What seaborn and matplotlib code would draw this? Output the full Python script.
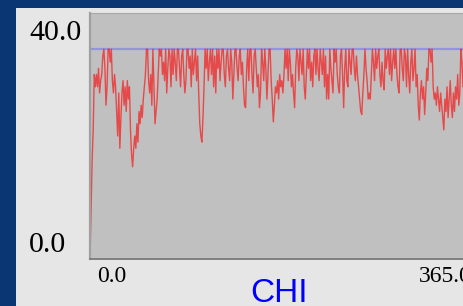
import numpy as np
import pandas as pd
import matplotlib
matplotlib.use('Agg')
import matplotlib.pyplot as plt
import seaborn as sns
from matplotlib.patches import Rectangle
from matplotlib.transforms import ScaledTranslation

# 每日 CHI 值（0 - 365 天），读图估计
CHI_VALUES = [
    0, 8, 16, 21, 30, 28, 30, 28, 31, 27, 29, 30, 33, 34.1, 31, 25, 28, 34.1, 34.1, 32,
    34.1, 29, 27, 30, 28, 24, 20, 27, 18, 23, 27, 29, 25, 28, 24, 29, 26, 28, 21, 17,
    15, 18, 20, 18, 22, 19, 24, 22, 25, 23, 26, 28, 30, 34.1, 34.1, 29, 27, 30, 25, 34.1,
    28, 22, 24, 26, 30, 34.1, 33, 34.1, 30, 32, 29, 34.1, 27, 31, 34.1, 33, 28, 34.1, 30, 34.1,
    32, 29, 34.1, 34.1, 31, 28, 33, 34.1, 30, 27, 29, 34.1, 34.1, 31, 33, 28, 34.1, 30, 32, 34.1,
    29, 33, 27, 22, 20, 19, 23, 28, 34.1, 31, 34.1, 29, 32, 34.1, 30, 34.1, 28, 33, 27, 34.1,
    31, 34.1, 29, 32, 34.1, 34.1, 30, 28, 33, 34.1, 31, 29, 34.1, 32, 26, 30, 34.1, 34.1, 31, 29,
    33, 34.1, 30, 32, 28, 25, 24.6, 31, 34.1, 29, 34.1, 34.1, 30, 27, 33, 34.1, 31, 28, 30, 24.6,
    27, 34.1, 32, 29, 34.1, 31, 26, 30, 34.1, 34.1, 29, 26, 22.3, 25, 28, 27, 29, 26, 30, 28,
    29, 27, 30, 34.1, 31, 34.1, 29, 34.1, 32, 28, 30, 27, 24.6, 31, 34.1, 33, 29, 34.1, 32, 30,
    34.1, 28, 26, 30, 34.1, 31, 34.1, 29, 32, 28, 33, 34.1, 30, 34.1, 31, 29, 34.1, 32, 30, 34.1,
    28, 33, 26, 30, 26, 34.1, 31, 29, 27, 34.1, 32, 34.1, 30, 28, 27, 33, 34.1, 30, 24.6, 31,
    34.1, 29, 28, 34.1, 32, 30, 34.1, 34.1, 31, 29, 33, 30, 28, 26, 24, 23.5, 27, 30, 34.1, 31,
    29, 26, 27, 26, 30, 34.1, 32, 29, 34.1, 31, 33, 34.1, 30, 28, 32, 29, 27.5, 34.1, 31, 33,
    34.1, 30, 34.1, 29, 32, 34.1, 31, 34.1, 30, 28, 27, 34.1, 34.1, 31, 29, 34.1, 33, 28, 34.1, 30,
    27, 32, 34.1, 29, 31, 34.1, 28, 30, 25, 22.6, 27, 29, 26, 28, 23.5, 27, 31, 29, 34.1, 34.1,
    32, 34.1, 28, 26, 27, 25, 28, 26, 24, 27, 25, 23, 21, 26, 24, 28, 23, 26, 29, 25,
    23, 27, 24, 28, 26, 30, 25, 27, 34.1, 32, 28, 30, 34.1, 27, 29, 33, 31, 28, 34.1, 30,
    29, 33, 34.1, 30, 28, 31,
]
DAYS = list(range(len(CHI_VALUES)))

# 上限线
CHI_LIMIT = 34.1

X_TICKS = [0, 365]
X_TICK_LABELS = ['0.0', '365.0']
Y_TICKS = [0, 40]
Y_TICK_LABELS = ['0.0', '40.0']

W, H, DPI = 464, 306, 100

df = pd.DataFrame({'Day': DAYS, 'CHI': CHI_VALUES})

fig = plt.figure(figsize=(W / DPI, H / DPI), dpi=DPI, facecolor='#0a3673')
fig.add_artist(Rectangle((16 / W, 0), 1, (H - 8) / H, transform=fig.transFigure,
                         facecolor='#e6e6e6', edgecolor='none', zorder=-1))

# 绘图区
ax = fig.add_axes([90 / W, (H - 259) / H, (479 - 90) / W, (259 - 13) / H])
ax.set_facecolor('#c0c0c0')

ax.axhline(CHI_LIMIT, color='#9494dc', lw=1.6, zorder=1)
sns.lineplot(data=df, x='Day', y='CHI', ax=ax, color='#ff0000', alpha=0.62,
             lw=1.0, zorder=2)

ax.set_xlim(X_TICKS[0], X_TICKS[-1])
ax.set_ylim(Y_TICKS[0], Y_TICKS[-1])

ax.spines['top'].set_color('#a8a8a8')
ax.spines['left'].set_color('#a0a0a0')
ax.spines['left'].set_linewidth(1.6)
ax.spines['bottom'].set_color('#808080')
ax.spines['bottom'].set_linewidth(1.4)
ax.spines['right'].set_visible(False)

ax.set_xticks(X_TICKS)
ax.set_xticklabels(X_TICK_LABELS, family='Liberation Serif', fontsize=17)
ax.set_yticks(Y_TICKS)
ax.set_yticklabels(Y_TICK_LABELS, family='Liberation Serif', fontsize=21.5)
ax.tick_params(axis='x', length=0, pad=0)
ax.tick_params(axis='y', length=0, pad=(90 - 29) * 0.72)

px = 1 / DPI
x_labels = ax.get_xticklabels()
x_labels[0].set_ha('left')
x_labels[-1].set_ha('right')
for lab, dx in zip(x_labels, [7, -7]):
    lab.set_va('baseline')
    lab.set_transform(lab.get_transform() + ScaledTranslation(dx * px, -23 * px, fig.dpi_scale_trans))

y_labels = ax.get_yticklabels()
for lab, dy in zip(y_labels, [7, -27]):
    lab.set_ha('left')
    lab.set_va('baseline')
    lab.set_transform(lab.get_transform() + ScaledTranslation(0, dy * px, fig.dpi_scale_trans))

ax.set_ylabel('')
ax.set_xlabel('CHI', family='Liberation Sans', fontsize=24, color='#0000ff')
ax.xaxis.set_label_coords((279 - 90) / (479 - 90), (259 - 302) / (259 - 13))
ax.xaxis.label.set_va('baseline')

fig.savefig('out.png', dpi=DPI, facecolor=fig.get_facecolor())
